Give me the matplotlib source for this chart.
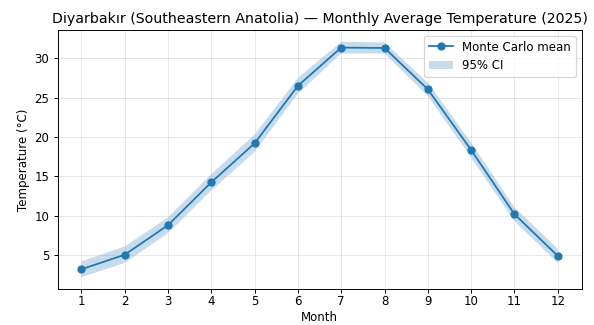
import numpy as np
import matplotlib.pyplot as plt

months = np.arange(1, 13)
mean_temp = [3.2, 5.05, 8.8, 14.25, 19.2, 26.5, 31.35, 31.3, 26.05, 18.35, 10.2, 4.9]
ci_lower = [2.2, 4.0, 7.8, 13.2, 18.1, 25.5, 30.6, 30.6, 25.2, 17.4, 9.3, 4.0]
ci_upper = [4.2, 6.1, 9.8, 15.3, 20.3, 27.5, 32.1, 32.0, 26.9, 19.3, 11.1, 5.8]

fig, ax = plt.subplots(figsize=(7, 3.83), dpi=594 / 7)
ax.fill_between(months, ci_lower, ci_upper, alpha=0.25, label="95% CI")
ax.plot(months, mean_temp, marker="o", label="Monte Carlo mean")
ax.set_title("Diyarbakır (Southeastern Anatolia) — Monthly Average Temperature (2025)")
ax.set_xlabel("Month", labelpad=2)
ax.set_ylabel("Temperature (°C)")
ax.set_xticks(months)
ax.tick_params(axis="x", pad=2)
ax.grid(True, alpha=0.3)
h, l = ax.get_legend_handles_labels()
ax.legend(h[::-1], l[::-1], loc="upper right")
fig.subplots_adjust(left=0.097, right=0.979, top=0.908, bottom=0.111)
fig.savefig("out.png")
